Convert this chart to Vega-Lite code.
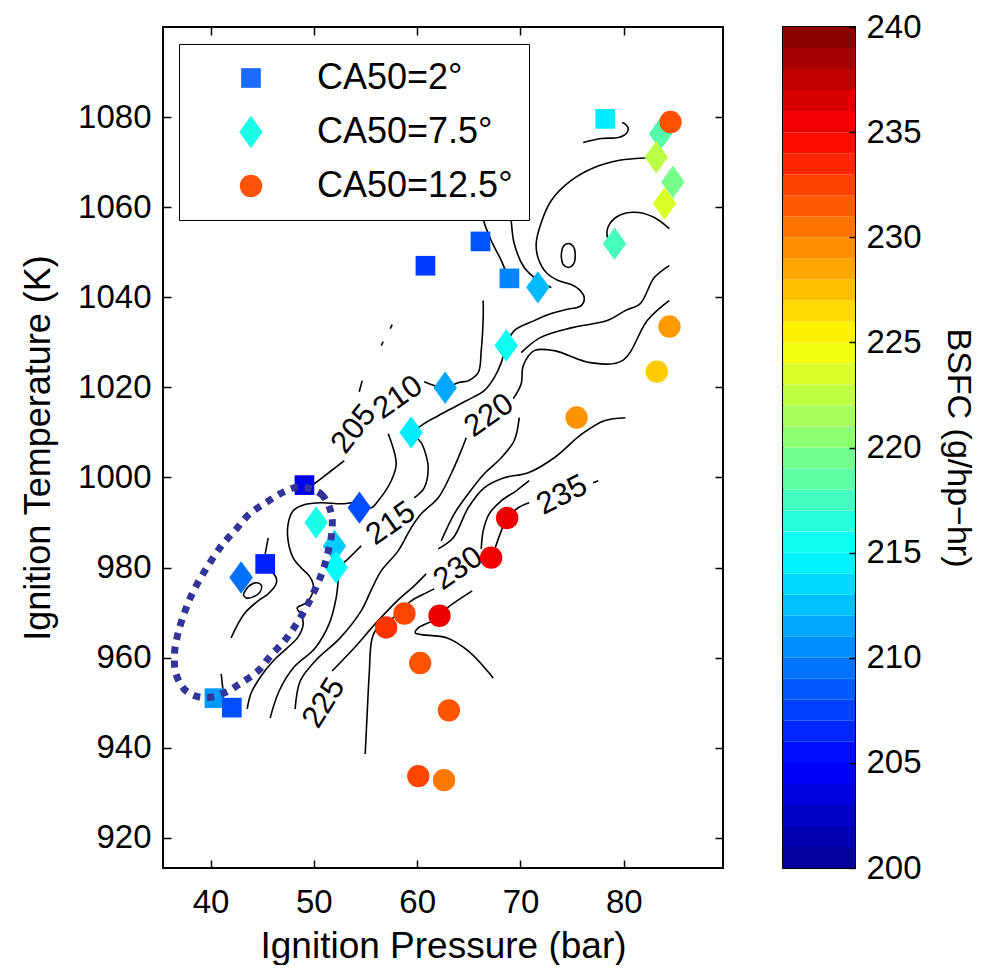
{
  "$schema": "https://vega.github.io/schema/vega-lite/v6.json",
  "background": "white",
  "padding": {"left": 19, "top": 10, "right": 10, "bottom": 0},
  "config": {
    "font": "Liberation Sans",
    "view": {"stroke": "black", "strokeWidth": 2},
    "axis": {"grid": false, "domain": false, "labelFont": "Liberation Sans", "titleFont": "Liberation Sans", "labelColor": "black", "titleColor": "black", "tickColor": "black", "tickWidth": 1.5, "labelFontSize": 33, "titleFontSize": 37, "titleFontWeight": "normal", "labelOverlap": false, "labelFlush": false, "zindex": 1}
  },
  "datasets": {
    "pts": [
      {"CA50": "CA50=7.5°", "P": 83.55, "T": 1076.3, "BSFC": 218.3},
      {"CA50": "CA50=7.5°", "P": 83.14, "T": 1071.1, "BSFC": 222.3},
      {"CA50": "CA50=7.5°", "P": 84.75, "T": 1065.6, "BSFC": 219.6},
      {"CA50": "CA50=7.5°", "P": 83.94, "T": 1060.8, "BSFC": 223.6},
      {"CA50": "CA50=7.5°", "P": 79.10, "T": 1051.9, "BSFC": 217.7},
      {"CA50": "CA50=7.5°", "P": 71.68, "T": 1042.2, "BSFC": 212.3},
      {"CA50": "CA50=7.5°", "P": 68.62, "T": 1029.3, "BSFC": 215.5},
      {"CA50": "CA50=7.5°", "P": 62.71, "T": 1019.9, "BSFC": 211.6},
      {"CA50": "CA50=7.5°", "P": 59.42, "T": 1010.0, "BSFC": 214.3},
      {"CA50": "CA50=7.5°", "P": 54.41, "T": 993.3, "BSFC": 208.0},
      {"CA50": "CA50=7.5°", "P": 50.22, "T": 990.0, "BSFC": 216.0},
      {"CA50": "CA50=7.5°", "P": 52.0, "T": 984.8, "BSFC": 213.0},
      {"CA50": "CA50=7.5°", "P": 52.16, "T": 980.0, "BSFC": 215.0},
      {"CA50": "CA50=7.5°", "P": 42.96, "T": 977.8, "BSFC": 209.4},
      {"CA50": "CA50=2°", "P": 78.20, "T": 1079.6, "BSFC": 214.2},
      {"CA50": "CA50=2°", "P": 66.13, "T": 1052.4, "BSFC": 208.3},
      {"CA50": "CA50=2°", "P": 60.80, "T": 1047.0, "BSFC": 207.3},
      {"CA50": "CA50=2°", "P": 68.93, "T": 1044.2, "BSFC": 210.2},
      {"CA50": "CA50=2°", "P": 49.09, "T": 998.3, "BSFC": 204.3},
      {"CA50": "CA50=2°", "P": 45.29, "T": 980.8, "BSFC": 206.3},
      {"CA50": "CA50=2°", "P": 40.38, "T": 951.0, "BSFC": 211.0},
      {"CA50": "CA50=2°", "P": 42.06, "T": 948.9, "BSFC": 208.0},
      {"CA50": "CA50=12.5°", "P": 84.52, "T": 1078.9, "BSFC": 231.9},
      {"CA50": "CA50=12.5°", "P": 84.42, "T": 1033.5, "BSFC": 229.0},
      {"CA50": "CA50=12.5°", "P": 83.20, "T": 1023.5, "BSFC": 227.0},
      {"CA50": "CA50=12.5°", "P": 75.43, "T": 1013.3, "BSFC": 229.2},
      {"CA50": "CA50=12.5°", "P": 68.71, "T": 991.0, "BSFC": 235.7},
      {"CA50": "CA50=12.5°", "P": 67.16, "T": 982.2, "BSFC": 235.5},
      {"CA50": "CA50=12.5°", "P": 58.77, "T": 969.8, "BSFC": 232.3},
      {"CA50": "CA50=12.5°", "P": 57.0, "T": 966.7, "BSFC": 233.0},
      {"CA50": "CA50=12.5°", "P": 62.16, "T": 969.3, "BSFC": 235.7},
      {"CA50": "CA50=12.5°", "P": 60.29, "T": 958.8, "BSFC": 231.7},
      {"CA50": "CA50=12.5°", "P": 63.07, "T": 948.3, "BSFC": 231.7},
      {"CA50": "CA50=12.5°", "P": 60.11, "T": 933.7, "BSFC": 232.3},
      {"CA50": "CA50=12.5°", "P": 62.60, "T": 932.8, "BSFC": 230.3}
    ],
    "clabels": [
      {"lab": "205", "P": 53.9, "T": 1010.7},
      {"lab": "210", "P": 58.16, "T": 1017.7},
      {"lab": "215", "P": 57.48, "T": 989.7},
      {"lab": "220", "P": 66.97, "T": 1013.7},
      {"lab": "225", "P": 51.0, "T": 949.9},
      {"lab": "230", "P": 64.0, "T": 979.7},
      {"lab": "235", "P": 74.04, "T": 996.0}
    ],
    "ellipse": [
      {"i": 0, "P": 48.77, "T": 997.9}, {"i": 1, "P": 50.71, "T": 996.3}, {"i": 2, "P": 51.67, "T": 992.2}, {"i": 3, "P": 51.74, "T": 987.8},
      {"i": 4, "P": 51.36, "T": 983.3}, {"i": 5, "P": 50.87, "T": 979.3}, {"i": 6, "P": 50.13, "T": 975.2}, {"i": 7, "P": 49.25, "T": 971.1},
      {"i": 8, "P": 48.29, "T": 967.4}, {"i": 9, "P": 47.15, "T": 963.7}, {"i": 10, "P": 45.80, "T": 960.4}, {"i": 11, "P": 44.58, "T": 957.0},
      {"i": 12, "P": 42.96, "T": 954.4}, {"i": 13, "P": 41.35, "T": 952.2}, {"i": 14, "P": 39.41, "T": 951.1}, {"i": 15, "P": 37.64, "T": 952.6},
      {"i": 16, "P": 36.67, "T": 956.3}, {"i": 17, "P": 36.51, "T": 960.8}, {"i": 18, "P": 36.83, "T": 965.2}, {"i": 19, "P": 37.42, "T": 969.6},
      {"i": 20, "P": 38.12, "T": 973.7}, {"i": 21, "P": 39.02, "T": 977.6}, {"i": 22, "P": 40.06, "T": 981.5}, {"i": 23, "P": 41.19, "T": 985.2},
      {"i": 24, "P": 42.48, "T": 988.5}, {"i": 25, "P": 43.77, "T": 991.9}, {"i": 26, "P": 45.38, "T": 994.4}, {"i": 27, "P": 47.0, "T": 996.7}
    ],
    "cbar": [
      {"lo": 200, "hi": 201, "BSFC": 200.5}, {"lo": 201, "hi": 202, "BSFC": 201.5}, {"lo": 202, "hi": 203, "BSFC": 202.5}, {"lo": 203, "hi": 204, "BSFC": 203.5},
      {"lo": 204, "hi": 205, "BSFC": 204.5}, {"lo": 205, "hi": 206, "BSFC": 205.5}, {"lo": 206, "hi": 207, "BSFC": 206.5}, {"lo": 207, "hi": 208, "BSFC": 207.5},
      {"lo": 208, "hi": 209, "BSFC": 208.5}, {"lo": 209, "hi": 210, "BSFC": 209.5}, {"lo": 210, "hi": 211, "BSFC": 210.5}, {"lo": 211, "hi": 212, "BSFC": 211.5},
      {"lo": 212, "hi": 213, "BSFC": 212.5}, {"lo": 213, "hi": 214, "BSFC": 213.5}, {"lo": 214, "hi": 215, "BSFC": 214.5}, {"lo": 215, "hi": 216, "BSFC": 215.5},
      {"lo": 216, "hi": 217, "BSFC": 216.5}, {"lo": 217, "hi": 218, "BSFC": 217.5}, {"lo": 218, "hi": 219, "BSFC": 218.5}, {"lo": 219, "hi": 220, "BSFC": 219.5},
      {"lo": 220, "hi": 221, "BSFC": 220.5}, {"lo": 221, "hi": 222, "BSFC": 221.5}, {"lo": 222, "hi": 223, "BSFC": 222.5}, {"lo": 223, "hi": 224, "BSFC": 223.5},
      {"lo": 224, "hi": 225, "BSFC": 224.5}, {"lo": 225, "hi": 226, "BSFC": 225.5}, {"lo": 226, "hi": 227, "BSFC": 226.5}, {"lo": 227, "hi": 228, "BSFC": 227.5},
      {"lo": 228, "hi": 229, "BSFC": 228.5}, {"lo": 229, "hi": 230, "BSFC": 229.5}, {"lo": 230, "hi": 231, "BSFC": 230.5}, {"lo": 231, "hi": 232, "BSFC": 231.5},
      {"lo": 232, "hi": 233, "BSFC": 232.5}, {"lo": 233, "hi": 234, "BSFC": 233.5}, {"lo": 234, "hi": 235, "BSFC": 234.5}, {"lo": 235, "hi": 236, "BSFC": 235.5},
      {"lo": 236, "hi": 237, "BSFC": 236.5}, {"lo": 237, "hi": 238, "BSFC": 237.5}, {"lo": 238, "hi": 239, "BSFC": 238.5}, {"lo": 239, "hi": 240, "BSFC": 239.5}
    ],
    "contours": [
      {"seg": "s1", "i": 0, "P": 76.07, "T": 1074.37}, {"seg": "s1", "i": 1, "P": 77.82, "T": 1075.26}, {"seg": "s1", "i": 2, "P": 79.46, "T": 1075.48}, {"seg": "s1", "i": 3, "P": 80.24, "T": 1076.37}, {"seg": "s1", "i": 4, "P": 80.43, "T": 1077.48}, {"seg": "s1", "i": 5, "P": 80.04, "T": 1078.59}, {"seg": "s1", "i": 6, "P": 79.85, "T": 1078.82},
      {"seg": "s2", "i": 0, "P": 82.85, "T": 1071.04}, {"seg": "s2", "i": 1, "P": 81.20, "T": 1070.82}, {"seg": "s2", "i": 2, "P": 79.46, "T": 1070.37}, {"seg": "s2", "i": 3, "P": 77.14, "T": 1068.82}, {"seg": "s2", "i": 4, "P": 74.91, "T": 1065.93}, {"seg": "s2", "i": 5, "P": 72.98, "T": 1061.49}, {"seg": "s2", "i": 6, "P": 72.01, "T": 1056.60}, {"seg": "s2", "i": 7, "P": 71.52, "T": 1051.93}, {"seg": "s2", "i": 8, "P": 71.72, "T": 1048.60}, {"seg": "s2", "i": 9, "P": 72.49, "T": 1045.49}, {"seg": "s2", "i": 10, "P": 73.65, "T": 1043.71}, {"seg": "s2", "i": 11, "P": 74.91, "T": 1042.82}, {"seg": "s2", "i": 12, "P": 75.69, "T": 1041.71}, {"seg": "s2", "i": 13, "P": 76.17, "T": 1039.93}, {"seg": "s2", "i": 14, "P": 75.88, "T": 1038.15}, {"seg": "s2", "i": 15, "P": 74.43, "T": 1037.27}, {"seg": "s2", "i": 16, "P": 72.98, "T": 1036.38}, {"seg": "s2", "i": 17, "P": 71.33, "T": 1034.82}, {"seg": "s2", "i": 18, "P": 69.39, "T": 1032.60}, {"seg": "s2", "i": 19, "P": 68.62, "T": 1029.26}, {"seg": "s2", "i": 20, "P": 68.14, "T": 1025.49}, {"seg": "s2", "i": 21, "P": 67.46, "T": 1022.15}, {"seg": "s2", "i": 22, "P": 66.49, "T": 1019.26}, {"seg": "s2", "i": 23, "P": 64.75, "T": 1017.04}, {"seg": "s2", "i": 24, "P": 63.29, "T": 1015.26}, {"seg": "s2", "i": 25, "P": 62.04, "T": 1013.71}, {"seg": "s2", "i": 26, "P": 60.68, "T": 1011.93}, {"seg": "s2", "i": 27, "P": 59.62, "T": 1009.93}, {"seg": "s2", "i": 28, "P": 60.39, "T": 1007.71}, {"seg": "s2", "i": 29, "P": 60.87, "T": 1004.82}, {"seg": "s2", "i": 30, "P": 61.07, "T": 1002.15}, {"seg": "s2", "i": 31, "P": 60.68, "T": 997.71}, {"seg": "s2", "i": 32, "P": 59.71, "T": 995.49},
      {"seg": "s3", "i": 0, "P": 54.58, "T": 984.82}, {"seg": "s3", "i": 1, "P": 53.32, "T": 981.93}, {"seg": "s3", "i": 2, "P": 52.45, "T": 979.93}, {"seg": "s3", "i": 3, "P": 52.35, "T": 977.04}, {"seg": "s3", "i": 4, "P": 52.16, "T": 973.26}, {"seg": "s3", "i": 5, "P": 51.48, "T": 967.49}, {"seg": "s3", "i": 6, "P": 50.13, "T": 962.15}, {"seg": "s3", "i": 7, "P": 48.00, "T": 957.71}, {"seg": "s3", "i": 8, "P": 46.64, "T": 952.60}, {"seg": "s3", "i": 9, "P": 45.77, "T": 946.60},
      {"seg": "s4", "i": 0, "P": 73.94, "T": 1049.26}, {"seg": "s4", "i": 1, "P": 74.14, "T": 1051.26}, {"seg": "s4", "i": 2, "P": 74.62, "T": 1051.93}, {"seg": "s4", "i": 3, "P": 75.11, "T": 1051.26}, {"seg": "s4", "i": 4, "P": 75.30, "T": 1049.26}, {"seg": "s4", "i": 5, "P": 75.11, "T": 1047.26}, {"seg": "s4", "i": 6, "P": 74.62, "T": 1046.60}, {"seg": "s4", "i": 7, "P": 74.14, "T": 1047.26}, {"seg": "s4", "i": 8, "P": 73.94, "T": 1049.26},
      {"seg": "s5", "i": 0, "P": 84.40, "T": 1055.26}, {"seg": "s5", "i": 1, "P": 82.95, "T": 1057.71}, {"seg": "s5", "i": 2, "P": 81.40, "T": 1058.82}, {"seg": "s5", "i": 3, "P": 79.75, "T": 1058.37}, {"seg": "s5", "i": 4, "P": 78.59, "T": 1056.15}, {"seg": "s5", "i": 5, "P": 78.40, "T": 1053.49}, {"seg": "s5", "i": 6, "P": 78.98, "T": 1051.49},
      {"seg": "s6", "i": 0, "P": 64.75, "T": 1008.82}, {"seg": "s6", "i": 1, "P": 64.26, "T": 1005.93}, {"seg": "s6", "i": 2, "P": 63.29, "T": 1000.82}, {"seg": "s6", "i": 3, "P": 62.04, "T": 995.49}, {"seg": "s6", "i": 4, "P": 60.39, "T": 991.93}, {"seg": "s6", "i": 5, "P": 59.42, "T": 988.82}, {"seg": "s6", "i": 6, "P": 58.16, "T": 983.71}, {"seg": "s6", "i": 7, "P": 56.52, "T": 979.26}, {"seg": "s6", "i": 8, "P": 55.65, "T": 975.49}, {"seg": "s6", "i": 9, "P": 54.58, "T": 970.37}, {"seg": "s6", "i": 10, "P": 52.55, "T": 964.38}, {"seg": "s6", "i": 11, "P": 50.13, "T": 959.26}, {"seg": "s6", "i": 12, "P": 48.68, "T": 954.82}, {"seg": "s6", "i": 13, "P": 48.19, "T": 948.60},
      {"seg": "s7", "i": 0, "P": 69.30, "T": 1017.49}, {"seg": "s7", "i": 1, "P": 70.07, "T": 1020.82}, {"seg": "s7", "i": 2, "P": 70.27, "T": 1024.82}, {"seg": "s7", "i": 3, "P": 71.33, "T": 1028.15}, {"seg": "s7", "i": 4, "P": 73.27, "T": 1028.15}, {"seg": "s7", "i": 5, "P": 76.75, "T": 1025.49}, {"seg": "s7", "i": 6, "P": 79.85, "T": 1025.93}, {"seg": "s7", "i": 7, "P": 82.27, "T": 1034.82}, {"seg": "s7", "i": 8, "P": 84.01, "T": 1038.60}, {"seg": "s7", "i": 9, "P": 84.40, "T": 1039.26},
      {"seg": "s8", "i": 0, "P": 70.07, "T": 1027.71}, {"seg": "s8", "i": 1, "P": 71.91, "T": 1031.04}, {"seg": "s8", "i": 2, "P": 75.01, "T": 1033.26}, {"seg": "s8", "i": 3, "P": 78.40, "T": 1034.82}, {"seg": "s8", "i": 4, "P": 80.14, "T": 1037.04}, {"seg": "s8", "i": 5, "P": 81.59, "T": 1038.60}, {"seg": "s8", "i": 6, "P": 82.95, "T": 1044.38}, {"seg": "s8", "i": 7, "P": 84.40, "T": 1047.04},
      {"seg": "s9", "i": 0, "P": 62.33, "T": 985.93}, {"seg": "s9", "i": 1, "P": 63.59, "T": 991.93}, {"seg": "s9", "i": 2, "P": 64.94, "T": 996.38}, {"seg": "s9", "i": 3, "P": 66.49, "T": 1000.82}, {"seg": "s9", "i": 4, "P": 68.14, "T": 1004.38}, {"seg": "s9", "i": 5, "P": 69.39, "T": 1008.15}, {"seg": "s9", "i": 6, "P": 69.88, "T": 1013.27},
      {"seg": "s10", "i": 0, "P": 51.77, "T": 957.04}, {"seg": "s10", "i": 1, "P": 53.90, "T": 962.15}, {"seg": "s10", "i": 2, "P": 55.94, "T": 967.49}, {"seg": "s10", "i": 3, "P": 58.07, "T": 972.60}, {"seg": "s10", "i": 4, "P": 59.71, "T": 975.93}, {"seg": "s10", "i": 5, "P": 60.87, "T": 978.60},
      {"seg": "s11", "i": 0, "P": 62.04, "T": 984.15}, {"seg": "s11", "i": 1, "P": 63.49, "T": 986.60}, {"seg": "s11", "i": 2, "P": 64.94, "T": 993.27}, {"seg": "s11", "i": 3, "P": 66.49, "T": 997.71}, {"seg": "s11", "i": 4, "P": 68.42, "T": 999.93}, {"seg": "s11", "i": 5, "P": 70.75, "T": 1001.04}, {"seg": "s11", "i": 6, "P": 73.27, "T": 1004.38}, {"seg": "s11", "i": 7, "P": 75.98, "T": 1009.71}, {"seg": "s11", "i": 8, "P": 78.11, "T": 1012.60}, {"seg": "s11", "i": 9, "P": 80.14, "T": 1013.27},
      {"seg": "s12", "i": 0, "P": 54.97, "T": 938.60}, {"seg": "s12", "i": 1, "P": 55.16, "T": 947.49}, {"seg": "s12", "i": 2, "P": 55.36, "T": 956.38}, {"seg": "s12", "i": 3, "P": 55.65, "T": 964.38}, {"seg": "s12", "i": 4, "P": 56.32, "T": 967.04}, {"seg": "s12", "i": 5, "P": 57.68, "T": 968.82}, {"seg": "s12", "i": 6, "P": 59.42, "T": 972.60}, {"seg": "s12", "i": 7, "P": 60.87, "T": 974.38}, {"seg": "s12", "i": 8, "P": 61.65, "T": 975.27},
      {"seg": "s13", "i": 0, "P": 66.20, "T": 984.15}, {"seg": "s13", "i": 1, "P": 66.39, "T": 988.15}, {"seg": "s13", "i": 2, "P": 66.97, "T": 991.93}, {"seg": "s13", "i": 3, "P": 68.14, "T": 994.82}, {"seg": "s13", "i": 4, "P": 69.59, "T": 997.04}, {"seg": "s13", "i": 5, "P": 70.84, "T": 999.27},
      {"seg": "s14", "i": 0, "P": 77.04, "T": 998.82}, {"seg": "s14", "i": 1, "P": 77.53, "T": 999.26},
      {"seg": "s15", "i": 0, "P": 70.84, "T": 994.38}, {"seg": "s15", "i": 1, "P": 69.78, "T": 993.27}, {"seg": "s15", "i": 2, "P": 68.72, "T": 991.04}, {"seg": "s15", "i": 3, "P": 68.14, "T": 988.15}, {"seg": "s15", "i": 4, "P": 67.46, "T": 983.71}, {"seg": "s15", "i": 5, "P": 67.17, "T": 981.49},
      {"seg": "s16", "i": 0, "P": 65.33, "T": 974.82}, {"seg": "s16", "i": 1, "P": 62.91, "T": 971.04}, {"seg": "s16", "i": 2, "P": 62.13, "T": 969.26}, {"seg": "s16", "i": 3, "P": 61.45, "T": 968.15}, {"seg": "s16", "i": 4, "P": 60.10, "T": 966.60}, {"seg": "s16", "i": 5, "P": 59.81, "T": 965.49}, {"seg": "s16", "i": 6, "P": 62.91, "T": 964.38}, {"seg": "s16", "i": 7, "P": 64.94, "T": 961.49}, {"seg": "s16", "i": 8, "P": 67.36, "T": 955.49},
      {"seg": "s17", "i": 0, "P": 48.77, "T": 997.04}, {"seg": "s17", "i": 1, "P": 50.03, "T": 998.60}, {"seg": "s17", "i": 2, "P": 51.68, "T": 1001.49}, {"seg": "s17", "i": 3, "P": 52.94, "T": 1003.71},
      {"seg": "s18", "i": 0, "P": 54.39, "T": 1019.04}, {"seg": "s18", "i": 1, "P": 54.68, "T": 1021.49},
      {"seg": "s19", "i": 0, "P": 56.52, "T": 1029.26}, {"seg": "s19", "i": 1, "P": 56.71, "T": 1030.15},
      {"seg": "s20", "i": 0, "P": 57.39, "T": 1033.04}, {"seg": "s20", "i": 1, "P": 57.58, "T": 1033.93},
      {"seg": "s21", "i": 0, "P": 66.39, "T": 1039.26}, {"seg": "s21", "i": 1, "P": 66.39, "T": 1035.49}, {"seg": "s21", "i": 2, "P": 66.20, "T": 1028.15}, {"seg": "s21", "i": 3, "P": 65.91, "T": 1023.27}, {"seg": "s21", "i": 4, "P": 64.94, "T": 1021.49}, {"seg": "s21", "i": 5, "P": 63.97, "T": 1021.04}, {"seg": "s21", "i": 6, "P": 62.71, "T": 1019.93}, {"seg": "s21", "i": 7, "P": 60.68, "T": 1021.27},
      {"seg": "s22", "i": 0, "P": 57.20, "T": 1009.71}, {"seg": "s22", "i": 1, "P": 57.97, "T": 1003.04}, {"seg": "s22", "i": 2, "P": 57.49, "T": 999.26}, {"seg": "s22", "i": 3, "P": 56.23, "T": 994.82}, {"seg": "s22", "i": 4, "P": 55.55, "T": 993.27}, {"seg": "s22", "i": 5, "P": 54.10, "T": 994.38}, {"seg": "s22", "i": 6, "P": 52.65, "T": 994.15}, {"seg": "s22", "i": 7, "P": 50.71, "T": 994.38}, {"seg": "s22", "i": 8, "P": 49.06, "T": 993.93}, {"seg": "s22", "i": 9, "P": 48.00, "T": 992.60}, {"seg": "s22", "i": 10, "P": 47.51, "T": 989.71}, {"seg": "s22", "i": 11, "P": 47.51, "T": 985.93}, {"seg": "s22", "i": 12, "P": 48.00, "T": 982.15}, {"seg": "s22", "i": 13, "P": 48.77, "T": 979.93}, {"seg": "s22", "i": 14, "P": 49.55, "T": 978.15}, {"seg": "s22", "i": 15, "P": 49.93, "T": 976.38}, {"seg": "s22", "i": 16, "P": 49.84, "T": 974.15}, {"seg": "s22", "i": 17, "P": 49.26, "T": 972.15}, {"seg": "s22", "i": 18, "P": 48.39, "T": 971.04}, {"seg": "s22", "i": 19, "P": 48.77, "T": 969.49}, {"seg": "s22", "i": 20, "P": 48.97, "T": 967.49}, {"seg": "s22", "i": 21, "P": 48.48, "T": 964.60}, {"seg": "s22", "i": 22, "P": 47.32, "T": 961.93}, {"seg": "s22", "i": 23, "P": 46.06, "T": 959.26}, {"seg": "s22", "i": 24, "P": 44.90, "T": 955.93}, {"seg": "s22", "i": 25, "P": 43.93, "T": 952.15}, {"seg": "s22", "i": 26, "P": 43.55, "T": 948.60},
      {"seg": "s23", "i": 0, "P": 45.58, "T": 986.60}, {"seg": "s23", "i": 1, "P": 45.29, "T": 983.04},
      {"seg": "s24", "i": 0, "P": 45.87, "T": 979.26}, {"seg": "s24", "i": 1, "P": 46.35, "T": 977.71}, {"seg": "s24", "i": 2, "P": 46.35, "T": 976.38}, {"seg": "s24", "i": 3, "P": 45.58, "T": 974.15}, {"seg": "s24", "i": 4, "P": 44.61, "T": 972.60}, {"seg": "s24", "i": 5, "P": 43.25, "T": 969.71}, {"seg": "s24", "i": 6, "P": 41.99, "T": 964.38},
      {"seg": "s25", "i": 0, "P": 43.16, "T": 973.93}, {"seg": "s25", "i": 1, "P": 43.55, "T": 975.49}, {"seg": "s25", "i": 2, "P": 44.32, "T": 976.60}, {"seg": "s25", "i": 3, "P": 44.90, "T": 976.15}, {"seg": "s25", "i": 4, "P": 44.80, "T": 974.60}, {"seg": "s25", "i": 5, "P": 44.13, "T": 973.49}, {"seg": "s25", "i": 6, "P": 43.45, "T": 973.26}, {"seg": "s25", "i": 7, "P": 43.16, "T": 973.93},
      {"seg": "s26", "i": 0, "P": 41.03, "T": 956.38}, {"seg": "s26", "i": 1, "P": 41.22, "T": 952.60},
      {"seg": "s27", "i": 0, "P": 66.39, "T": 1061.49}, {"seg": "s27", "i": 1, "P": 66.39, "T": 1057.49}, {"seg": "s27", "i": 2, "P": 67.17, "T": 1052.60}, {"seg": "s27", "i": 3, "P": 68.14, "T": 1048.15}, {"seg": "s27", "i": 4, "P": 68.81, "T": 1044.38},
      {"seg": "s28", "i": 0, "P": 68.91, "T": 1061.49}, {"seg": "s28", "i": 1, "P": 69.10, "T": 1057.04}, {"seg": "s28", "i": 2, "P": 69.39, "T": 1051.93}, {"seg": "s28", "i": 3, "P": 70.36, "T": 1046.60}, {"seg": "s28", "i": 4, "P": 71.72, "T": 1043.71}, {"seg": "s28", "i": 5, "P": 72.98, "T": 1042.15}
    ]
  },
  "resolve": {"scale": {"color": "independent"}, "legend": {"color": "independent"}},
  "spacing": 57,
  "hconcat": [
    {
      "width": 560,
      "height": 841,
      "layer": [
        {
          "data": {"name": "contours"},
          "mark": {"type": "line", "stroke": "black", "strokeWidth": 1.6, "interpolate": "catmull-rom"},
          "encoding": {
            "x": {"field": "P", "type": "quantitative", "scale": {"domain": [35.4, 89.6], "nice": false, "zero": false},
                  "axis": {"orient": "bottom", "values": [40, 50, 60, 70, 80], "title": "Ignition Pressure (bar)", "tickSize": -8, "labelPadding": 26, "titleY": 89, "titleBaseline": "alphabetic"}},
            "y": {"field": "T", "type": "quantitative", "scale": {"domain": [913.3, 1100], "nice": false, "zero": false},
                  "axis": {"orient": "left", "values": [920, 940, 960, 980, 1000, 1020, 1040, 1060, 1080], "format": "d", "title": "Ignition Temperature (K)", "titleFontSize": 36, "tickSize": -8, "labelPadding": 20, "titleX": -114, "titleBaseline": "alphabetic"}},
            "detail": {"field": "seg", "type": "nominal"},
            "order": {"field": "i", "type": "quantitative"}
          }
        },
        {
          "data": {"name": "clabels"},
          "transform": [{"filter": "datum.lab == '205'"}],
          "mark": {"type": "text", "font": "Liberation Sans", "fontSize": 31, "angle": -52, "align": "center", "baseline": "middle", "color": "black"},
          "encoding": {"x": {"field": "P", "type": "quantitative", "axis": null}, "y": {"field": "T", "type": "quantitative", "axis": null}, "text": {"field": "lab"}}
        },
        {
          "data": {"name": "clabels"},
          "transform": [{"filter": "datum.lab == '225'"}],
          "mark": {"type": "text", "font": "Liberation Sans", "fontSize": 31, "angle": -58, "align": "center", "baseline": "middle", "color": "black"},
          "encoding": {"x": {"field": "P", "type": "quantitative", "axis": null}, "y": {"field": "T", "type": "quantitative", "axis": null}, "text": {"field": "lab"}}
        },
        {
          "data": {"name": "clabels"},
          "transform": [{"filter": "datum.lab == '210' || datum.lab == '215' || datum.lab == '220' || datum.lab == '230'"}],
          "mark": {"type": "text", "font": "Liberation Sans", "fontSize": 31, "angle": -35, "align": "center", "baseline": "middle", "color": "black"},
          "encoding": {"x": {"field": "P", "type": "quantitative", "axis": null}, "y": {"field": "T", "type": "quantitative", "axis": null}, "text": {"field": "lab"}}
        },
        {
          "data": {"name": "clabels"},
          "transform": [{"filter": "datum.lab == '235'"}],
          "mark": {"type": "text", "font": "Liberation Sans", "fontSize": 31, "angle": -27, "align": "center", "baseline": "middle", "color": "black"},
          "encoding": {"x": {"field": "P", "type": "quantitative", "axis": null}, "y": {"field": "T", "type": "quantitative", "axis": null}, "text": {"field": "lab"}}
        },
        {
          "data": {"name": "pts"},
          "mark": {"type": "point", "filled": true, "opacity": 1, "size": 500, "strokeWidth": 0},
          "encoding": {
            "x": {"field": "P", "type": "quantitative", "axis": {"orient": "top", "values": [40, 50, 60, 70, 80], "labels": false, "title": null, "tickSize": -8}},
            "y": {"field": "T", "type": "quantitative", "axis": {"orient": "right", "values": [920, 940, 960, 980, 1000, 1020, 1040, 1060, 1080], "labels": false, "title": null, "tickSize": -8}},
            "shape": {"field": "CA50", "type": "nominal",
              "scale": {"domain": ["CA50=2°", "CA50=7.5°", "CA50=12.5°"], "range": ["M-0.88,-0.88L0.88,-0.88L0.88,0.88L-0.88,0.88Z", "M0,-1.45L1.05,0L0,1.45L-1.05,0Z", "circle"]},
              "legend": {"orient": "none", "legendX": 16, "legendY": 17, "title": null, "padding": 16, "strokeColor": "black", "fillColor": "white",
                "labelFontSize": 36, "labelFont": "Liberation Sans", "labelColor": "black", "labelLimit": 400, "symbolOffset": 38, "labelOffset": 48, "rowPadding": 18, "symbolSize": 500, "symbolStrokeWidth": 0,
                "symbolFillColor": {"expr": "datum.value === 'CA50=2°' ? '#1a6cff' : datum.value === 'CA50=7.5°' ? '#1bffe8' : '#ff5309'"},
                "encode": {
                  "legend": {"update": {"strokeWidth": {"value": 2}}}}}},
            "color": {"field": "BSFC", "type": "quantitative", "legend": null,
              "scale": {"type": "linear", "domain": [200, 205, 210, 215, 220, 225, 230, 235, 240], "range": ["#00008f", "#0000ff", "#0080ff", "#00ffff", "#80ff80", "#ffff00", "#ff8000", "#ff0000", "#800000"], "interpolate": "rgb"}}
          }
        },
        {
          "data": {"name": "ellipse"},
          "mark": {"type": "line", "stroke": "#333399", "strokeWidth": 7, "strokeDash": [7, 7], "interpolate": "cardinal-closed"},
          "encoding": {
            "x": {"field": "P", "type": "quantitative", "axis": null},
            "y": {"field": "T", "type": "quantitative", "axis": null},
            "order": {"field": "i", "type": "quantitative"}
          }
        }
      ],
      "resolve": {"axis": {"x": "independent", "y": "independent"}}
    },
    {
      "width": 72,
      "height": 841,
      "data": {"name": "cbar"},
      "mark": {"type": "rect"},
      "encoding": {
        "y": {"field": "lo", "type": "quantitative", "scale": {"domain": [200, 240], "nice": false, "zero": false},
              "axis": {"orient": "right", "values": [200, 205, 210, 215, 220, 225, 230, 235, 240], "title": "BSFC (g/hp−hr)", "tickSize": -6, "labelPadding": 17, "titleAngle": 90, "titleX": 92, "titleBaseline": "alphabetic", "titleFontSize": 34, "zindex": 2}},
        "y2": {"field": "hi"},
        "color": {"field": "BSFC", "type": "quantitative", "legend": null,
          "scale": {"type": "linear", "domain": [200, 205, 210, 215, 220, 225, 230, 235, 240], "range": ["#00008f", "#0000ff", "#0080ff", "#00ffff", "#80ff80", "#ffff00", "#ff8000", "#ff0000", "#800000"], "interpolate": "rgb"}}
      }
    }
  ]
}
